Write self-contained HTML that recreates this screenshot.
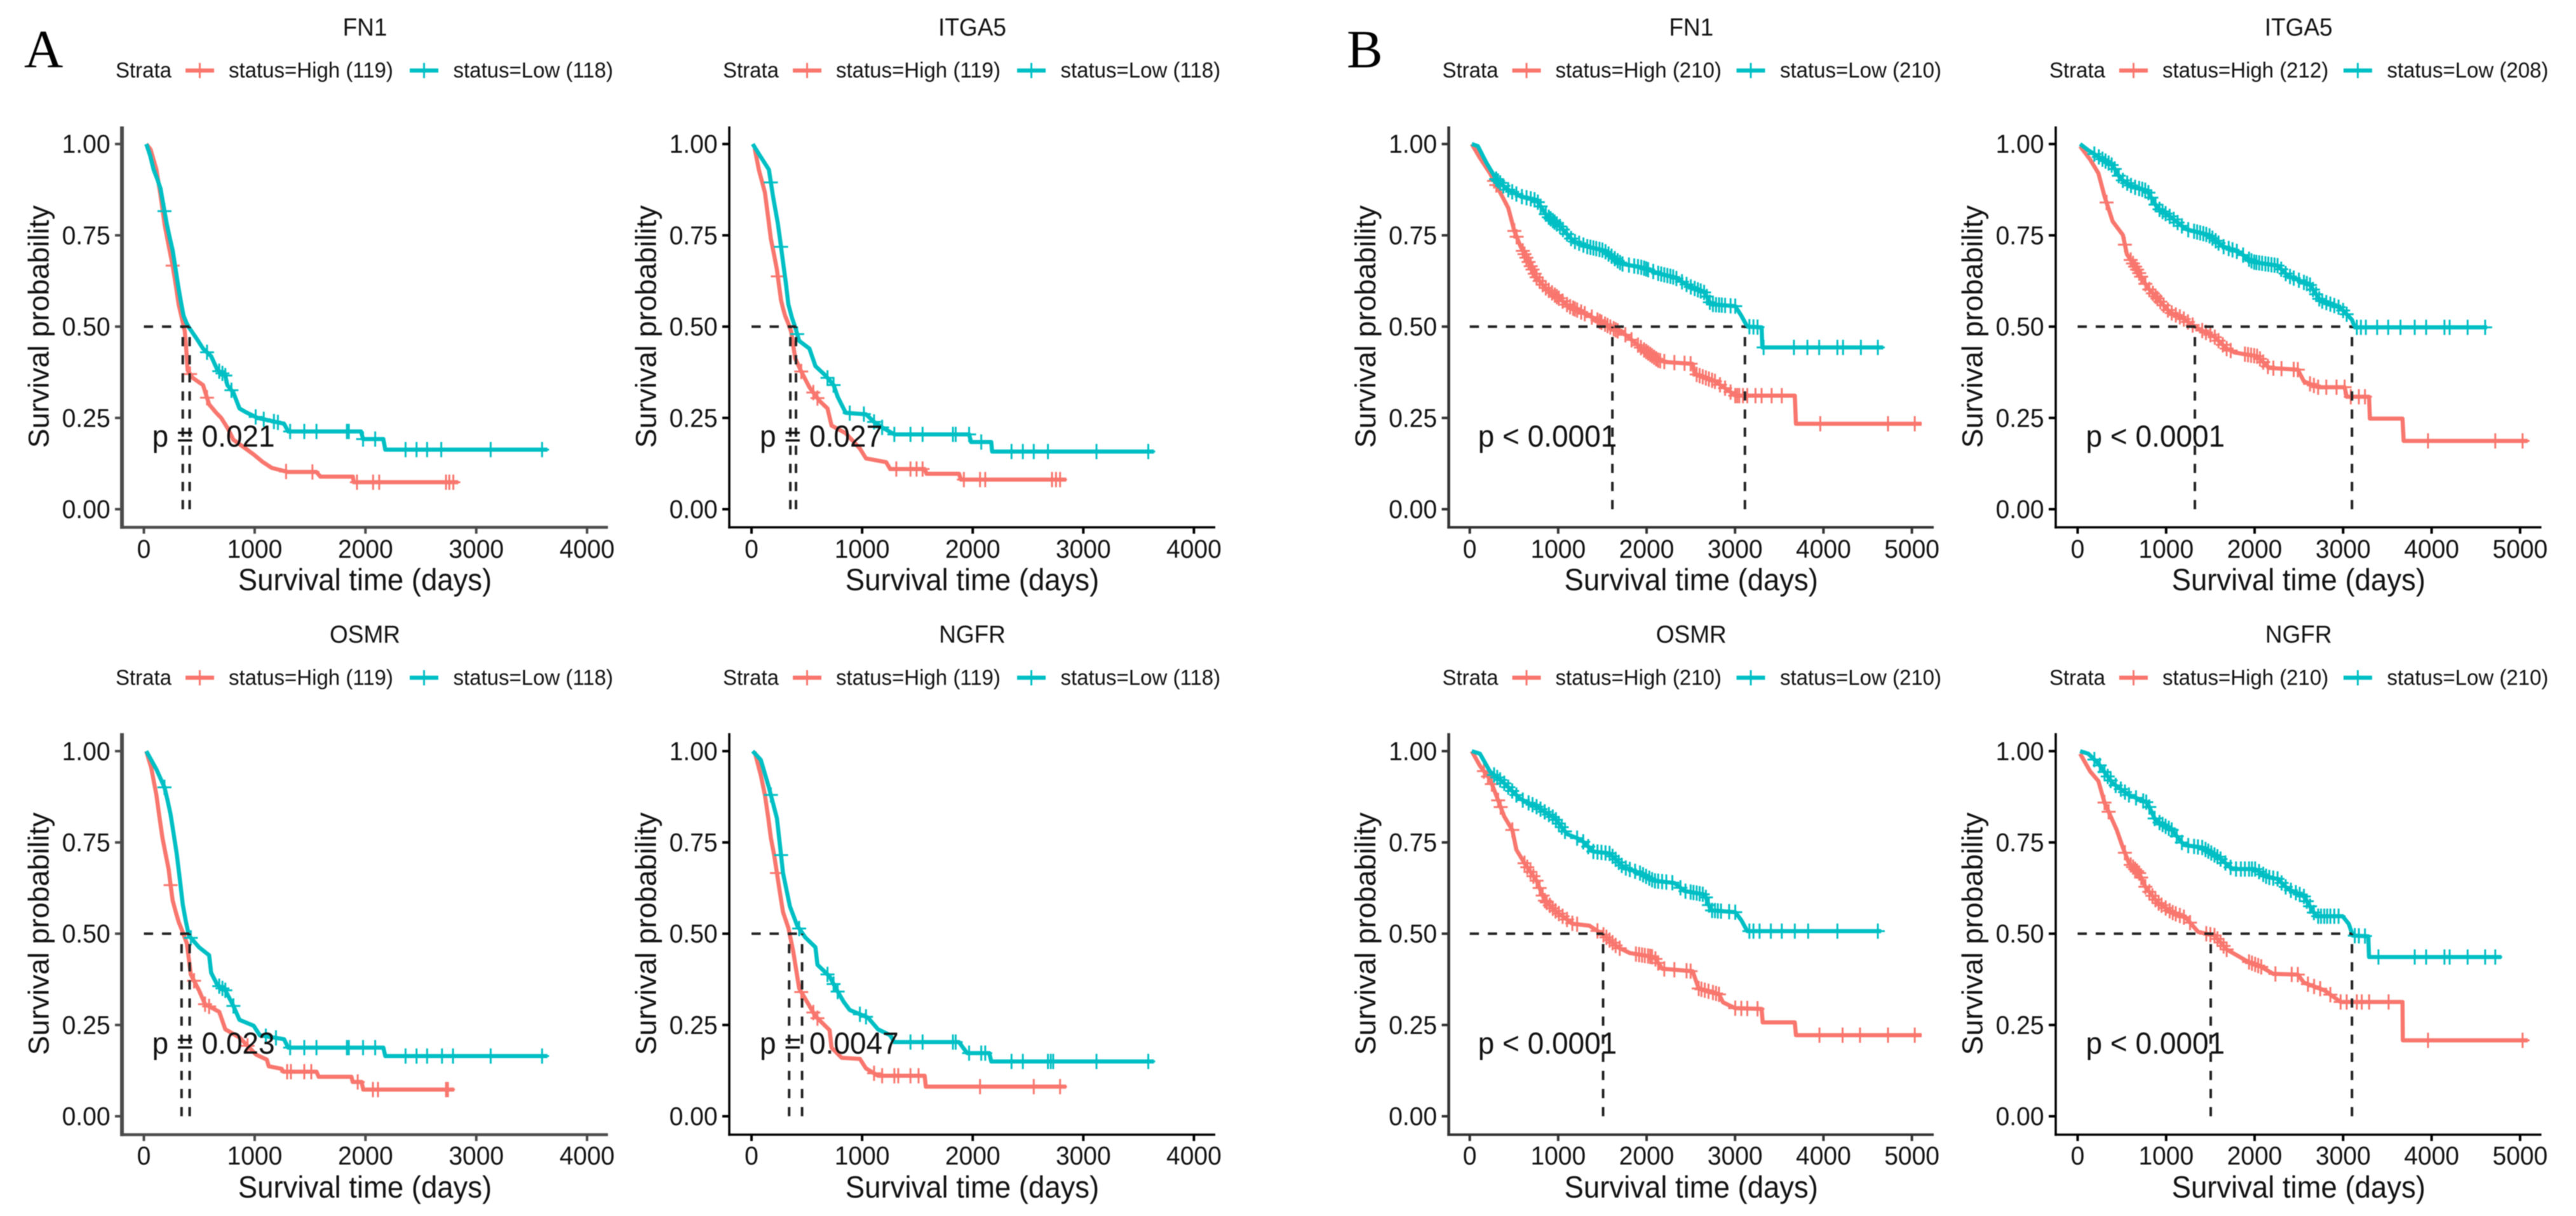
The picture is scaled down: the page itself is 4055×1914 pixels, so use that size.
<!DOCTYPE html>
<html lang="en">
<head>
<meta charset="utf-8">
<title>Kaplan-Meier survival curves</title>
<style>
html,body{margin:0;padding:0;background:#fff;width:4055px;height:1914px;overflow:hidden}
svg{display:block;filter:blur(0.8px)}
text{font-family:"Liberation Sans",Arial,sans-serif;fill:#111}
.letter{font-family:"Liberation Serif","Times New Roman",serif;font-size:85px;fill:#000}
</style>
</head>
<body>
<svg id="figure" xmlns="http://www.w3.org/2000/svg" width="4055" height="1914" viewBox="0 0 4055 1914">
<rect width="4055" height="1914" fill="#fff"/>
<text class="letter" x="38" y="106">A</text>
<text class="letter" x="2120" y="106">B</text>
</svg>
<script>
const yTickValues=[0,0.25,0.5,0.75,1];
const yTickLabels=["0.00","0.25","0.50","0.75","1.00"];
const xTicksA=[0,1000,2000,3000,4000];
const xTicksB=[0,1000,2000,3000,4000,5000];

const A_FN1_high_t=[22,60,113,150,187,225,260,290,314,345,369,382,395,440,534,589,650,698,760,808,900,990,1070,1155,1300,1557,1594,1886,1894,2837];
const A_FN1_high_s=[1,.985,.93,.86,.78,.72,.667,.61,.56,.52,.487,.44,.38,.36,.34,.287,.265,.25,.22,.19,.17,.15,.13,.113,.102,.102,.089,.089,.074,.074];
const A_FN1_high_c=[260,417,570,1283,1521,1923,2069,2124,2727,2757,2793];
const A_FN1_low_t=[22,55,88,120,150,178,205,232,260,287,314,336,358,382,406,479,534,607,662,735,753,808,863,918,1027,1265,1302,1960,1978,2161,2179,3642];
const A_FN1_low_s=[1,.97,.93,.905,.878,.83,.783,.745,.709,.655,.603,.565,.53,.512,.498,.466,.44,.419,.382,.366,.34,.319,.276,.266,.25,.234,.213,.213,.192,.192,.163,.163];
const A_FN1_low_c=[186,570,680,709,735,790,1009,1082,1174,1210,1320,1448,1558,1832,1850,1978,2088,2362,2461,2556,2684,3130,3594];
const A_FN1_med=[351,413];

const A_ITGA5_high_t=[29,66,121,150,175,205,230,250,267,285,303,330,358,395,450,523,614,687,724,852,980,1035,1217,1254,1565,1583,1876,1894,2845];
const A_ITGA5_high_s=[.988,.93,.867,.8,.74,.695,.656,.61,.572,.55,.53,.51,.487,.413,.377,.334,.297,.276,.229,.208,.166,.139,.129,.11,.11,.097,.097,.081,.081];
const A_ITGA5_high_c=[238,450,559,596,1309,1437,1492,1547,1920,2066,2113,2717,2753,2790];
const A_ITGA5_low_t=[11,66,157,175,194,216,238,262,285,310,333,365,395,431,523,578,669,742,779,852,1035,1108,1181,1291,1967,1985,2168,2175,3638];
const A_ITGA5_low_s=[1,.973,.93,.895,.857,.82,.783,.73,.677,.62,.561,.525,.498,.461,.44,.392,.366,.34,.308,.264,.26,.239,.224,.205,.205,.184,.184,.158,.158];
const A_ITGA5_low_c=[175,267,413,687,742,888,1016,1108,1181,1291,1437,1547,1821,1846,1967,2077,2351,2453,2552,2680,3119,3587];
const A_ITGA5_med=[351,402];

const A_OSMR_high_t=[22,66,113,140,168,195,223,240,260,287,314,350,388,424,497,552,680,735,863,1012,1110,1127,1243,1260,1558,1578,1873,1885,1965,1980,2800];
const A_OSMR_high_s=[1,.955,.88,.82,.762,.72,.677,.635,.591,.56,.532,.505,.473,.388,.345,.307,.286,.238,.216,.169,.155,.137,.13,.122,.122,.108,.108,.094,.094,.073,.073];
const A_OSMR_high_c=[241,453,552,589,936,1293,1327,1448,1511,1930,2067,2113,2727,2744];
const A_OSMR_low_t=[22,113,186,214,241,268,296,324,351,378,406,497,589,607,662,735,808,863,991,1046,1265,1302,2161,2179,3642];
const A_OSMR_low_s=[1,.95,.901,.865,.827,.775,.72,.65,.58,.535,.495,.463,.441,.393,.36,.345,.302,.264,.248,.222,.211,.188,.188,.165,.165];
const A_OSMR_low_c=[186,424,680,709,735,808,1101,1192,1320,1448,1558,1832,1850,1978,2088,2362,2461,2556,2691,2790,3130,3594];
const A_OSMR_med=[340,413];

const A_NGFR_high_t=[29,84,121,150,175,205,230,258,285,333,377,431,505,578,706,724,815,980,1035,1144,1565,1576,2845];
const A_NGFR_high_s=[.998,.934,.88,.82,.762,.715,.666,.61,.559,.516,.452,.35,.312,.274,.236,.188,.16,.157,.131,.111,.111,.081,.081];
const A_NGFR_high_c=[230,450,559,596,1108,1181,1291,1327,1437,1510,2066,2552,2790];
const A_NGFR_low_t=[11,84,157,230,258,285,347,413,486,578,596,706,761,834,888,1053,1144,1254,1291,1876,1949,2150,2168,3638];
const A_NGFR_low_s=[1,.976,.901,.816,.74,.666,.575,.522,.49,.463,.415,.383,.351,.313,.291,.27,.238,.222,.203,.203,.173,.173,.15,.15];
const A_NGFR_low_c=[175,267,431,687,742,779,980,1035,1437,1547,1821,1846,1967,2077,2113,2351,2453,2680,2706,2728,3119,3587];
const A_NGFR_med=[340,457];

const B_FN1_high_t=[23,115,229,321,435,504,573,665,756,848,985,1123,1260,1398,1581,1764,1948,2131,2223,2520,2544,2773,2933,3002,3676,3689,5110];
const B_FN1_high_s=[1,.962,.92,.878,.825,.762,.72,.677,.635,.608,.582,.556,.54,.524,.5,.477,.44,.408,.403,.398,.371,.35,.324,.311,.311,.234,.234];
const B_FN1_high_c=[275,300,504,530,600,619,640,665,690,710,735,756,790,825,860,894,930,962,985,1008,1050,1100,1135,1169,1190,1215,1260,1300,1380,1444,1470,1490,1530,1558,1590,1627,1650,1673,1760,1830,1902,1935,1971,1995,2017,2040,2062,2085,2108,2130,2154,2200,2314,2429,2498,2566,2600,2635,2670,2704,2740,2773,2830,2887,2950,3002,3025,3048,3090,3139,3231,3300,3414,3529,3964,4730,5032];
const B_FN1_low_t=[23,92,183,298,412,573,756,871,1031,1169,1329,1512,1719,1948,2131,2314,2498,2658,2727,3002,3071,3139,3300,3309,4675];
const B_FN1_low_s=[1,.994,.951,.904,.878,.857,.846,.804,.772,.735,.719,.709,.672,.662,.646,.635,.609,.593,.561,.556,.53,.5,.498,.443,.443];
const B_FN1_low_c=[298,320,344,380,435,480,527,590,642,690,733,770,802,860,894,915,940,960,985,1020,1054,1100,1146,1190,1237,1285,1329,1365,1398,1430,1467,1500,1535,1570,1604,1640,1673,1700,1728,1800,1860,1902,1940,1971,1995,2017,2075,2131,2165,2200,2235,2269,2300,2337,2400,2452,2500,2544,2580,2612,2650,2681,2715,2750,2785,2819,2850,2887,2950,3002,3162,3208,3254,3323,3666,3818,3951,4157,4221,4423,4615];
const B_FN1_med=[1613,3112];

const B_ITGA5_high_t=[28,143,235,304,396,511,557,672,787,902,1040,1178,1339,1546,1684,1776,2028,2166,2488,2557,2718,3017,3040,3293,3303,3671,3684,5087];
const B_ITGA5_high_s=[.994,.957,.92,.857,.788,.751,.698,.656,.608,.577,.54,.524,.498,.472,.44,.429,.419,.387,.382,.35,.334,.334,.308,.308,.248,.248,.187,.187];
const B_ITGA5_high_c=[327,534,600,626,650,672,695,718,765,810,850,880,902,935,971,1020,1063,1110,1155,1200,1247,1300,1408,1450,1500,1550,1592,1640,1684,1730,1891,1925,1960,1995,2028,2060,2097,2150,2212,2304,2442,2488,2626,2670,2718,2810,2925,3017,3087,3178,3247,3960,4719,5028];
const B_ITGA5_low_t=[28,120,258,396,488,626,787,902,1063,1224,1477,1638,1821,1983,2259,2373,2626,2741,2972,3100,3132,4627];
const B_ITGA5_low_s=[1,.983,.962,.941,.904,.883,.872,.825,.798,.767,.751,.72,.704,.677,.667,.64,.614,.572,.551,.519,.498,.498];
const B_ITGA5_low_c=[189,240,281,315,350,385,419,465,511,560,603,650,695,730,764,800,833,880,925,960,994,1040,1086,1130,1178,1250,1316,1350,1385,1420,1454,1490,1523,1560,1592,1650,1707,1750,1799,1870,1937,1965,1995,2020,2052,2085,2121,2155,2190,2225,2259,2300,2351,2400,2442,2500,2557,2590,2626,2660,2695,2730,2764,2810,2856,2900,2948,3000,3040,3155,3201,3257,3385,3510,3648,3809,3938,4145,4204,4407,4605];
const B_ITGA5_med=[1325,3100];

const B_OSMR_high_t=[23,115,229,298,390,481,527,619,756,848,985,1169,1352,1512,1673,1810,2085,2177,2521,2589,2818,2864,3002,3300,3313,3676,3689,5110];
const B_OSMR_high_s=[1,.96,.923,.88,.821,.784,.73,.693,.645,.591,.559,.527,.522,.497,.463,.447,.436,.404,.397,.35,.334,.312,.296,.294,.257,.257,.222,.222];
const B_OSMR_high_c=[160,206,250,321,350,481,619,650,687,720,756,790,825,850,871,905,939,970,1008,1050,1100,1160,1214,1444,1512,1545,1581,1615,1650,1696,1879,1915,1948,1980,2016,2040,2062,2100,2131,2200,2314,2452,2498,2589,2620,2658,2700,2750,2785,2818,3002,3071,3139,3254,3955,4216,4413,4730,5032];
const B_OSMR_low_t=[23,115,229,390,573,756,962,1100,1260,1398,1581,1741,1925,2085,2314,2429,2658,2727,3002,3071,3139,4652];
const B_OSMR_low_s=[1,.993,.944,.912,.869,.848,.816,.773,.757,.725,.72,.682,.666,.645,.639,.617,.607,.564,.559,.537,.507,.507];
const B_OSMR_low_c=[275,310,344,390,435,480,527,600,665,710,756,800,848,895,939,975,1008,1040,1077,1214,1283,1340,1398,1445,1489,1535,1581,1615,1650,1685,1719,1765,1810,1870,1925,1960,1994,2030,2062,2095,2131,2175,2223,2291,2383,2440,2498,2530,2566,2600,2635,2670,2704,2740,2773,2805,2841,2933,3002,3162,3208,3277,3405,3529,3676,3827,4157,4615];
const B_OSMR_med=[1508];

const B_NGFR_high_t=[28,143,235,304,442,511,580,695,764,902,1063,1224,1362,1546,1684,1914,2075,2212,2488,2557,2787,2972,3671,3675,5087];
const B_NGFR_high_s=[.993,.944,.918,.859,.784,.736,.693,.666,.629,.586,.559,.543,.505,.495,.457,.425,.409,.39,.388,.366,.345,.313,.313,.208,.208];
const B_NGFR_high_c=[304,350,534,600,626,650,672,695,718,765,810,845,879,915,948,995,1040,1075,1109,1155,1201,1270,1454,1500,1546,1580,1615,1650,1684,1937,1970,2006,2040,2075,2235,2419,2488,2603,2672,2741,2856,2972,3040,3155,3211,3294,3514,3960,5028];
const B_NGFR_low_t=[28,120,235,396,580,787,879,1063,1201,1408,1592,1753,2006,2143,2259,2373,2557,2695,2994,3063,3109,3284,3293,4788];
const B_NGFR_low_s=[1,.993,.966,.912,.88,.859,.811,.784,.743,.736,.709,.677,.677,.655,.65,.623,.602,.548,.548,.527,.495,.493,.436,.436];
const B_NGFR_low_c=[189,250,304,340,373,430,488,535,580,660,741,775,810,870,925,960,994,1030,1063,1120,1178,1250,1316,1360,1408,1445,1477,1510,1546,1580,1615,1670,1729,1790,1845,1890,1937,1970,2006,2050,2097,2130,2166,2210,2259,2305,2351,2410,2466,2510,2557,2590,2626,2670,2718,2750,2787,2820,2856,2900,2948,3132,3178,3247,3399,3809,3938,4145,4204,4407,4605,4719];
const B_NGFR_med=[1504,3100];

const columns={
  aLeft:{axis:192,x0:226.5,per1000:174.4,right:957,ticks:xTicksA,axisColor:'#4a4a4a',yWidth:6,xWidth:4.5},
  aRight:{axis:1148,x0:1183,per1000:174.1,right:1913,ticks:xTicksA,axisColor:'#000',yWidth:3.5,xWidth:3.5},
  bLeft:{axis:2280.5,x0:2313.6,per1000:139.2,right:3044,ticks:xTicksB,axisColor:'#333',yWidth:4.5,xWidth:4},
  bRight:{axis:3236,x0:3270.5,per1000:139.3,right:4000.6,ticks:xTicksB,axisColor:'#000',yWidth:3.5,xWidth:3.5}
};
const rows={
  top:{y1:226.7,y0:801.5,axisY:830,axisTop:199,legend:111,title:56,tick:878,xlabel:929},
  bottom:{y1:1182.3,y0:1757,axisY:1786,axisTop:1154,legend:1066.8,title:1011.5,tick:1833,xlabel:1885}
};
const panels=[
 {key:'a-fn1',title:'FN1',col:columns.aLeft,row:rows.top,p:'p = 0.021',hn:119,ln:118,ht:A_FN1_high_t,hs:A_FN1_high_s,hc:A_FN1_high_c,lt:A_FN1_low_t,ls:A_FN1_low_s,lc:A_FN1_low_c,med:A_FN1_med},
 {key:'a-itga5',title:'ITGA5',col:columns.aRight,row:rows.top,p:'p = 0.027',hn:119,ln:118,ht:A_ITGA5_high_t,hs:A_ITGA5_high_s,hc:A_ITGA5_high_c,lt:A_ITGA5_low_t,ls:A_ITGA5_low_s,lc:A_ITGA5_low_c,med:A_ITGA5_med},
 {key:'a-osmr',title:'OSMR',col:columns.aLeft,row:rows.bottom,p:'p = 0.023',hn:119,ln:118,ht:A_OSMR_high_t,hs:A_OSMR_high_s,hc:A_OSMR_high_c,lt:A_OSMR_low_t,ls:A_OSMR_low_s,lc:A_OSMR_low_c,med:A_OSMR_med},
 {key:'a-ngfr',title:'NGFR',col:columns.aRight,row:rows.bottom,p:'p = 0.0047',hn:119,ln:118,ht:A_NGFR_high_t,hs:A_NGFR_high_s,hc:A_NGFR_high_c,lt:A_NGFR_low_t,ls:A_NGFR_low_s,lc:A_NGFR_low_c,med:A_NGFR_med},
 {key:'b-fn1',title:'FN1',col:columns.bLeft,row:rows.top,p:'p < 0.0001',hn:210,ln:210,ht:B_FN1_high_t,hs:B_FN1_high_s,hc:B_FN1_high_c,lt:B_FN1_low_t,ls:B_FN1_low_s,lc:B_FN1_low_c,med:B_FN1_med},
 {key:'b-itga5',title:'ITGA5',col:columns.bRight,row:rows.top,p:'p < 0.0001',hn:212,ln:208,ht:B_ITGA5_high_t,hs:B_ITGA5_high_s,hc:B_ITGA5_high_c,lt:B_ITGA5_low_t,ls:B_ITGA5_low_s,lc:B_ITGA5_low_c,med:B_ITGA5_med},
 {key:'b-osmr',title:'OSMR',col:columns.bLeft,row:rows.bottom,p:'p < 0.0001',hn:210,ln:210,ht:B_OSMR_high_t,hs:B_OSMR_high_s,hc:B_OSMR_high_c,lt:B_OSMR_low_t,ls:B_OSMR_low_s,lc:B_OSMR_low_c,med:B_OSMR_med},
 {key:'b-ngfr',title:'NGFR',col:columns.bRight,row:rows.bottom,p:'p < 0.0001',hn:210,ln:210,ht:B_NGFR_high_t,hs:B_NGFR_high_s,hc:B_NGFR_high_c,lt:B_NGFR_low_t,ls:B_NGFR_low_s,lc:B_NGFR_low_c,med:B_NGFR_med}
];

const RED='#F8766D',TEAL='#00BFC4';
const NS='http://www.w3.org/2000/svg';
const root=document.getElementById('figure');

function group(parent,name){
  const el=document.createElementNS(NS,'g');
  
  
  parent.appendChild(el);
  return el;
}
function line(parent,name,x1,y1,x2,y2,color,width,dash){
  const el=document.createElementNS(NS,'line');
  
  
  el.setAttribute('x1',x1);el.setAttribute('y1',y1);el.setAttribute('x2',x2);el.setAttribute('y2',y2);
  el.setAttribute('stroke',color);el.setAttribute('stroke-width',width);
  if(dash)el.setAttribute('stroke-dasharray',dash);
  parent.appendChild(el);
  return el;
}
function label(parent,name,str,x,y,size,anchor,rotate){
  const el=document.createElementNS(NS,'text');
  
  
  el.setAttribute('font-size',size);
  el.setAttribute('text-anchor',anchor||'start');
  el.setAttribute('transform',rotate?`translate(${x} ${y}) rotate(-90)`:`translate(${x} ${y}) scale(1 1.05)`);
  el.textContent=str;
  parent.appendChild(el);
  return el;
}
function survivalAt(ts,ss,t){
  if(t<=ts[0])return ss[0];
  for(let i=1;i<ts.length;i++){
    if(t<=ts[i]){
      const f=(t-ts[i-1])/((ts[i]-ts[i-1])||1);
      return ss[i-1]+f*(ss[i]-ss[i-1]);
    }
  }
  return ss[ss.length-1];
}
function curve(parent,name,ts,ss,cs,color,sx,sy){
  const g=group(parent,name);
  const path=document.createElementNS(NS,'path');
  
  
  path.setAttribute('d',ts.map((t,i)=>(i?'L':'M')+sx(t).toFixed(1)+' '+sy(ss[i]).toFixed(1)).join(''));
  path.setAttribute('fill','none');
  path.setAttribute('stroke',color);
  path.setAttribute('stroke-width','6.5');
  path.setAttribute('stroke-linejoin','round');
  g.appendChild(path);
  cs.forEach(t=>{
    const x=sx(t),y=sy(survivalAt(ts,ss,t));
    const mark=document.createElementNS(NS,'path');
    
    
    mark.setAttribute('d',`M${(x-11).toFixed(1)} ${y.toFixed(1)}H${(x+11).toFixed(1)}M${x.toFixed(1)} ${(y-12).toFixed(1)}V${(y+12).toFixed(1)}`);
    mark.setAttribute('stroke',color);
    mark.setAttribute('stroke-width','3');
    mark.setAttribute('fill','none');
    g.appendChild(mark);
  });
}
function legendKey(parent,name,x1,x2,y,color){
  const g=group(parent,name);
  line(g,name+'-line',x1,y,x2,y,color,6.5);
  line(g,name+'-cross',(x1+x2)/2,y-12,(x1+x2)/2,y+12,color,3);
}
function drawPanel(p){
  const c=p.col,r=p.row;
  const sx=t=>c.x0+t/1000*c.per1000;
  const sy=s=>r.y0+s*(r.y1-r.y0);
  const g=group(root,'panel-'+p.key);
  label(g,'panel-title',p.title,(c.axis+c.right)/2,r.title,37,'middle');
  // legend
  const lg=group(g,'legend');
  const ly=r.legend;
  label(lg,'legend-title','Strata',c.axis-10,ly+11,33,'start');
  legendKey(lg,'legend-key-high',c.axis+100,c.axis+145,ly,RED);
  label(lg,'legend-label-high','status=High ('+p.hn+')',c.axis+168,ly+11,33,'start');
  legendKey(lg,'legend-key-low',c.axis+453,c.axis+498,ly,TEAL);
  label(lg,'legend-label-low','status=Low ('+p.ln+')',c.axis+521.5,ly+11,33,'start');
  // curves
  curve(g,'series-high',p.ht,p.hs,p.hc,RED,sx,sy);
  curve(g,'series-low',p.lt,p.ls,p.lc,TEAL,sx,sy);
  // median reference lines
  const medG=group(g,'median-lines');
  const maxMed=Math.max.apply(null,p.med);
  line(medG,'median-horizontal',sx(0),sy(0.5),sx(maxMed),sy(0.5),'#222',4,'14.5 14');
  p.med.forEach(m=>{
    line(medG,'median-vertical',sx(m),sy(0),sx(m),sy(0.5),'#222',4,'14.5 14');
  });
  // axes
  const ax=group(g,'axes');
  line(ax,'y-axis-line',c.axis,r.axisTop,c.axis,r.axisY+c.xWidth/2,c.axisColor,c.yWidth);
  line(ax,'x-axis-line',c.axis-c.yWidth/2,r.axisY,c.right,r.axisY,c.axisColor,c.xWidth);
  yTickValues.forEach((v,i)=>{
    line(ax,'y-tick',c.axis-11,sy(v),c.axis,sy(v),c.axisColor,4);
    label(ax,'y-tick-label',yTickLabels[i],c.axis-18.5,sy(v)+14,39,'end');
  });
  c.ticks.forEach(t=>{
    line(ax,'x-tick',sx(t),r.axisY,sx(t),r.axisY+10,c.axisColor,4);
    label(ax,'x-tick-label',String(t),sx(t),r.tick,39,'middle');
  });
  label(ax,'x-axis-title','Survival time (days)',(c.axis+c.right)/2,r.xlabel,45.5,'middle');
  label(ax,'y-axis-title','Survival probability',c.axis-115.5,(r.y0+r.y1)/2,45.5,'middle',true);
  // p value
  label(g,'p-value',p.p,c.x0+13,sy(0.171),46,'start');
}
panels.forEach(drawPanel);
</script>
</body>
</html>
